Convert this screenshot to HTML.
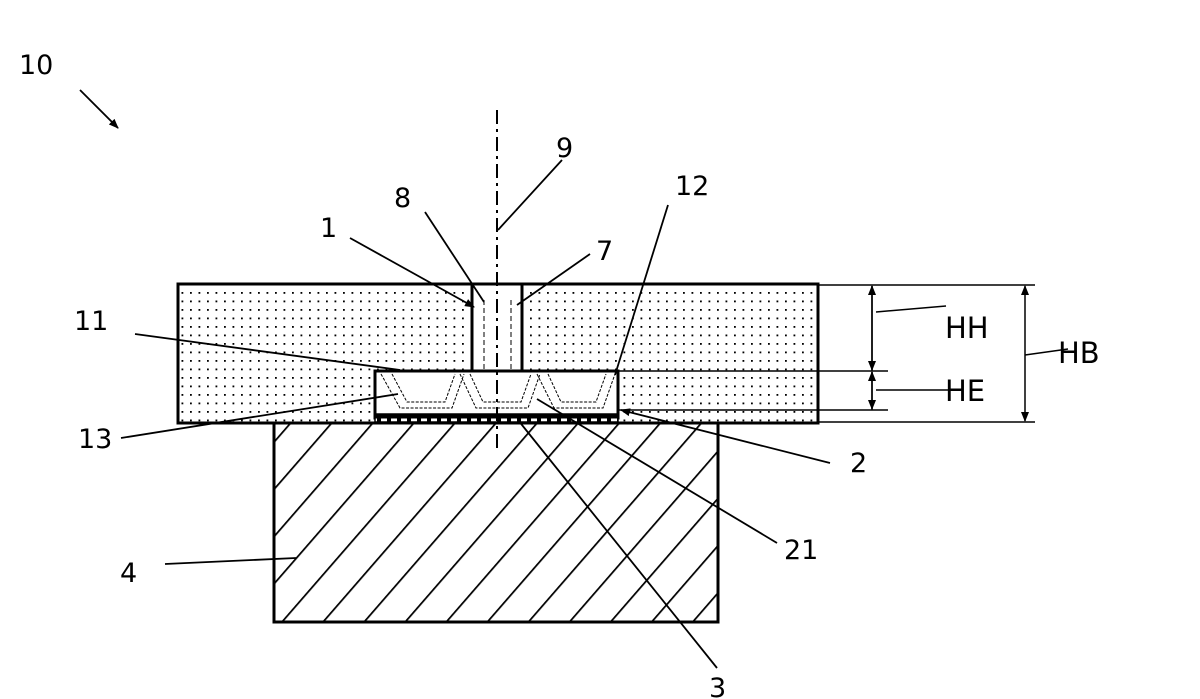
<!DOCTYPE html>
<html><head><meta charset="utf-8"><style>
html,body{margin:0;padding:0;background:#fff;}
svg{display:block;}
text{font-family:"DejaVu Sans","Liberation Sans",sans-serif;font-size:27px;fill:#000;}
.d{font-size:29px;}
</style></head><body>
<svg width="1200" height="699" viewBox="0 0 1200 699" xmlns="http://www.w3.org/2000/svg">
<defs>
<pattern id="dots" width="8.5" height="8.5" patternUnits="userSpaceOnUse">
<rect x="3" y="3" width="1.8" height="1.8" fill="#000"/>
</pattern>
<pattern id="hatch" width="31" height="31" patternUnits="userSpaceOnUse" patternTransform="rotate(-49)">
<line x1="0" y1="0" x2="31" y2="0" stroke="#000" stroke-width="3.5"/>
</pattern>
<pattern id="chk" width="10" height="8" patternUnits="userSpaceOnUse">
<rect width="10" height="8" fill="#000"/>
<rect x="1" y="2.5" width="6" height="3" fill="#fff"/>
</pattern>
<marker id="ar" markerWidth="10" markerHeight="8" refX="9" refY="4" orient="auto" markerUnits="userSpaceOnUse">
<path d="M0,0 L10,4 L0,8 z" fill="#000"/>
</marker>
</defs>

<rect x="178" y="284" width="640" height="139" fill="url(#dots)" stroke="#000" stroke-width="3"/>
<rect x="472" y="284" width="50" height="87" fill="#fff" stroke="#000" stroke-width="3"/>
<line x1="484" y1="300" x2="484" y2="412" stroke="#000" stroke-width="1" stroke-dasharray="5,3"/>
<line x1="511" y1="300" x2="511" y2="412" stroke="#000" stroke-width="1" stroke-dasharray="5,3"/>
<rect x="375" y="371" width="243" height="47" fill="#fff" stroke="#000" stroke-width="3"/>
<g fill="none" stroke="#000" stroke-width="1" stroke-dasharray="3,1.5">
<path d="M381,374 L400,408 L452,408 L464,374"/>
<path d="M392,374 L407,402 L445,402 L455,374"/>
<path d="M460,374 L476,408 L528,408 L540,374"/>
<path d="M470,374 L483,402 L521,402 L531,374"/>
<path d="M537,374 L554,408 L603,408 L615,374"/>
<path d="M548,374 L561,402 L596,402 L606,374"/>
</g>
<rect x="375" y="414" width="243" height="8" fill="url(#chk)" stroke="#000" stroke-width="1.5"/>
<rect x="274" y="423" width="444" height="199" fill="url(#hatch)" stroke="#000" stroke-width="3"/>
<line x1="497" y1="110" x2="497" y2="450" stroke="#000" stroke-width="2" stroke-dasharray="14,5,3,5"/>

<g stroke="#000" stroke-width="1.5" fill="none">
<line x1="818" y1="285" x2="1035" y2="285"/>
<line x1="818" y1="422" x2="1035" y2="422"/>
<line x1="618" y1="371" x2="888" y2="371"/>
<line x1="618" y1="410" x2="888" y2="410"/>
<line x1="872" y1="371" x2="872" y2="286" marker-end="url(#ar)"/>
<line x1="872" y1="286" x2="872" y2="370" marker-end="url(#ar)"/>
<line x1="872" y1="410" x2="872" y2="372" marker-end="url(#ar)"/>
<line x1="872" y1="372" x2="872" y2="409" marker-end="url(#ar)"/>
<line x1="1025" y1="354" x2="1025" y2="286" marker-end="url(#ar)"/>
<line x1="1025" y1="354" x2="1025" y2="421" marker-end="url(#ar)"/>
<line x1="876" y1="312" x2="946" y2="306"/>
<line x1="876" y1="390" x2="950" y2="390"/>
<line x1="1025" y1="355" x2="1068" y2="349"/>
</g>

<g stroke="#000" stroke-width="1.8" fill="none">
<line x1="80" y1="90" x2="118" y2="128" marker-end="url(#ar)"/>
<line x1="562" y1="160" x2="498" y2="230"/>
<line x1="425" y1="212" x2="484" y2="302"/>
<line x1="350" y1="238" x2="474" y2="307" marker-end="url(#ar)"/>
<line x1="590" y1="254" x2="517" y2="305"/>
<line x1="668" y1="205" x2="615" y2="375"/>
<line x1="135" y1="334" x2="400" y2="370"/>
<line x1="121" y1="438" x2="398" y2="394"/>
<line x1="830" y1="463" x2="621" y2="410" marker-end="url(#ar)"/>
<line x1="777" y1="543" x2="537" y2="399"/>
<line x1="717" y1="668" x2="518" y2="420"/>
<line x1="165" y1="564" x2="296" y2="558"/>
</g>

<g>
<text x="19" y="74">10</text>
<text x="556" y="157">9</text>
<text x="394" y="207">8</text>
<text x="320" y="237">1</text>
<text x="596" y="260">7</text>
<text x="675" y="195">12</text>
<text x="74" y="330">11</text>
<text x="78" y="448">13</text>
<text x="850" y="472">2</text>
<text x="784" y="559">21</text>
<text x="120" y="582">4</text>
<text x="709" y="697">3</text>
<text class="d" x="945" y="338">HH</text>
<text class="d" x="945" y="401">HE</text>
<text class="d" x="1058" y="363">HB</text>
</g>
</svg>
</body></html>
